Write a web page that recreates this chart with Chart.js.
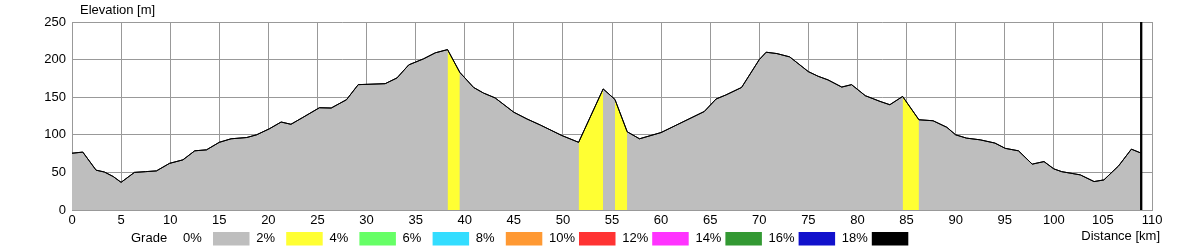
<!DOCTYPE html>
<html>
<head>
<meta charset="utf-8">
<script src="https://cdn.jsdelivr.net/npm/chart.js@4/dist/chart.umd.min.js"></script>
<style>
  body { margin: 0; background: #fff; }
  canvas { display: block; }
</style>
</head>
<body>
<canvas id="profileCanvas" width="1200" height="250"></canvas>
<script>
// route profile
var distKm = [0, 1.1, 2.45, 3.3, 4.2, 5.0, 6.36, 7.5, 8.6, 9.93, 11.3, 12.5, 13.7, 15.0, 16.2, 17.8, 18.8,
  20.1, 21.3, 22.3, 23.5, 25.2, 26.4, 27.3, 27.96, 29.15, 31.9, 33.1, 34.3, 35.8, 37.0, 38.25,
  39.5, 40.9, 41.9, 43.1, 45.0, 46.35, 47.7, 49.9, 51.6, 54.1, 55.3, 56.55, 57.8, 60.0, 64.4,
  65.6, 66.6, 68.2, 70.0, 70.7, 71.8, 73.1, 75.0, 76.0, 77.0, 78.4, 79.4, 80.8, 82.3, 83.3,
  84.6, 86.26, 87.7, 89.1, 90.0, 91.1, 92.5, 94.0, 95.05, 96.4, 97.8, 99.0, 100.0, 100.8,
  102.7, 104.1, 105.1, 106.6, 107.9, 108.9];
var elevM = [75.5, 77, 53, 50.5, 44.5, 36.8, 50, 51, 52, 62, 66.7, 78.7, 80, 90, 94.7, 96.4, 100,
  108, 117, 114, 123, 136, 135.6, 142, 146.7, 166.7, 168, 175.6, 193, 201, 209, 213.3,
  183, 163, 155.6, 149, 130, 121, 113, 99, 90, 161, 147, 104, 94.7, 103, 131,
  147.6, 153, 163, 200, 209.8, 208, 203.6, 184, 177.8, 173, 163.5, 166.7, 152, 144.4, 140,
  151, 120, 118.7, 110, 100, 95.6, 93.3, 89, 82, 78.7, 61, 64.4, 54.7, 51,
  46.7, 37.8, 40, 58.7, 80.9, 75.6];

// stretches coloured in the 2-4% class
var steepFrom = [38.25, 51.6, 55.3, 84.6];
var steepTo = [39.5, 54.1, 56.55, 86.26];

var gradeLabels = ['0%', '2%', '4%', '6%', '8%', '10%', '12%', '14%', '16%', '18%'];
var gradeColors = ['#bebebe', '#ffff33', '#66ff66', '#33ddff', '#ff9933', '#ff3333', '#ff33ff', '#339933', '#1111cc', '#000000'];

var FONT = '13px Arial, "Liberation Sans", sans-serif';

var profilePts = distKm.map(function(d, i) { return { x: d, y: elevM[i] }; });

var datasets = [];
// black profile line on top
datasets.push({
  data: profilePts,
  borderColor: '#000',
  borderWidth: 1,
  fill: false,
  pointRadius: 0,
  tension: 0
});
// end of route marker
var lastKm = distKm[distKm.length - 1];
datasets.push({
  data: [{ x: lastKm, y: 0 }, { x: lastKm, y: 250 }],
  borderColor: '#000',
  borderWidth: 2,
  fill: false,
  pointRadius: 0
});
// yellow grade stretches
for (var s = 0; s < steepFrom.length; s++) {
  datasets.push({
    data: profilePts.filter(function(p) { return p.x >= steepFrom[s] && p.x <= steepTo[s]; }),
    borderColor: 'rgba(0,0,0,0)',
    borderWidth: 0,
    backgroundColor: gradeColors[1],
    fill: 'origin',
    pointRadius: 0,
    tension: 0
  });
}
// gray base fill
datasets.push({
  data: profilePts,
  borderColor: 'rgba(0,0,0,0)',
  borderWidth: 0,
  backgroundColor: gradeColors[0],
  fill: 'origin',
  pointRadius: 0,
  tension: 0
});

// redraw the lines over the grid, then texts and grade legend
var overlay = {
  id: 'overlay',
  afterDraw: function(chart) {
    chart.getDatasetMeta(0).controller.draw();
    chart.getDatasetMeta(1).controller.draw();

    var c = chart.ctx;
    c.save();
    c.font = FONT;
    c.fillStyle = '#000';
    c.textBaseline = 'middle';
    c.textAlign = 'left';
    c.fillText('Elevation [m]', 80, 10);
    c.fillText('Grade', 131, 238);
    c.textAlign = 'right';
    c.fillText('Distance [km]', 1160, 236);
    c.textAlign = 'left';
    for (var i = 0; i < gradeLabels.length; i++) {
      var x0 = 183 + i * 73.2;
      c.fillStyle = '#000';
      c.fillText(gradeLabels[i], x0, 238);
      c.fillStyle = gradeColors[i];
      c.fillRect(x0 + 30, 232, 36.5, 13.5);
    }
    c.restore();
  }
};

var gridOpts = { color: '#999', lineWidth: 1, drawTicks: false };

new Chart(document.getElementById('profileCanvas').getContext('2d'), {
  type: 'line',
  data: { datasets: datasets },
  plugins: [overlay],
  options: {
    responsive: false,
    animation: false,
    devicePixelRatio: 1,
    layout: { padding: { left: 0, right: 48, top: 22, bottom: 20 } },
    plugins: { legend: { display: false }, tooltip: { enabled: false } },
    scales: {
      x: {
        type: 'linear',
        min: 0,
        max: 110,
        z: 1,
        grid: gridOpts,
        border: { color: '#999' },
        ticks: { stepSize: 5, padding: 3, color: '#000', font: { family: 'Arial, "Liberation Sans", sans-serif', size: 13 }, maxRotation: 0 },
        afterFit: function(scale) { scale.height = 20; }
      },
      y: {
        min: 0,
        max: 250,
        z: 1,
        grid: gridOpts,
        border: { color: '#999' },
        ticks: { stepSize: 50, padding: 6, color: '#000', font: { family: 'Arial, "Liberation Sans", sans-serif', size: 13 } },
        afterFit: function(scale) { scale.width = 72; }
      }
    }
  }
});
</script>
</body>
</html>
